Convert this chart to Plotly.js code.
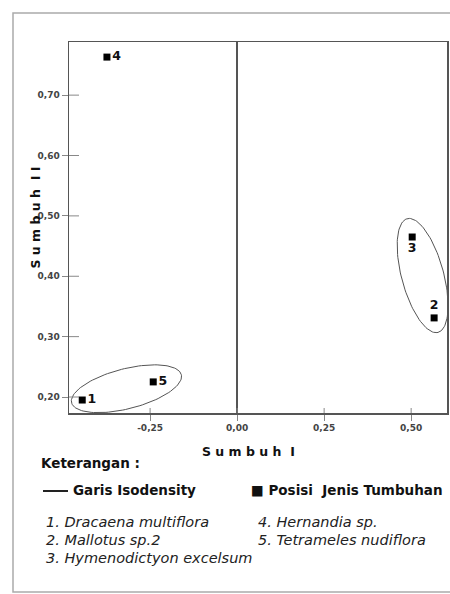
<!DOCTYPE html>
<html>
<head>
<meta charset="utf-8">
<script src="https://cdn.plot.ly/plotly-3.0.1.min.js"></script>
<style>html,body{margin:0;padding:0;background:#fff;}#chart{width:450px;height:594px;}</style>
</head>
<body>
<div id="chart"></div>
<script>
// ---- data ----
const pointIds = ['1', '2', '3', '4', '5'];
const sumbuhI = [-0.445, 0.566, 0.503, -0.374, -0.241];
const sumbuhII = [0.195, 0.331, 0.465, 0.763, 0.225];
const speciesNames = ['Dracaena multiflora', 'Mallotus sp.2', 'Hymenodictyon excelsum', 'Hernandia sp.', 'Tetrameles nudiflora'];
const isodensityGroups = [[0, 4], [2, 1]];
const xTickVals = [-0.25, 0, 0.25, 0.5];
const xTickText = ['-0,25', '0,00', '0,25', '0,50'];
const yTickVals = [0.2, 0.3, 0.4, 0.5, 0.6, 0.7];
const yTickText = ['0,20', '0,30', '0,40', '0,50', '0,60', '0,70'];
const legendTitle = 'Keterangan :';
const legendLine = 'Garis Isodensity';
const legendPoint = 'Posisi\u00a0\u00a0Jenis Tumbuhan';
const xTitle = 'S u m b u h \u00a0I';
const yTitle = 'S u m b u h \u00a0I I';

// ---- layout geometry ----
const W = 450, H = 594;
const M = {l: 69, r: 3, t: 42, b: 181};
const PW = W - M.l - M.r, PH = H - M.t - M.b;
const xRange = [-0.483, 0.603];
const yRange = [0.1735, 0.788];
const px = v => (v - M.l) / PW;
const py = v => (H - M.b - v) / PH;
const textPos = ['middle right', 'top center', 'bottom center', 'middle right', 'middle right'];
const groupShift = [9, -2];
const ellPad = [20, 17], ellMinor = [20, 21];

// ---- isodensity ellipses built from the group members ----
const sx = PW / (xRange[1] - xRange[0]);
const sy = PH / (yRange[1] - yRange[0]);
const ellipseTraces = isodensityGroups.map((g, gi) => {
  const P = g.map(i => [sumbuhI[i] * sx, sumbuhII[i] * sy]);
  const dx = P[1][0] - P[0][0], dy = P[1][1] - P[0][1];
  const d = Math.hypot(dx, dy);
  const u = [dx / d, dy / d], v = [-u[1], u[0]];
  const s = groupShift[gi] * Math.sign(u[0] || 1);
  const c = [(P[0][0] + P[1][0]) / 2 + u[0] * s, (P[0][1] + P[1][1]) / 2 + u[1] * s];
  const a = d / 2 + ellPad[gi], b = ellMinor[gi];
  const xs = [], ys = [];
  for (let k = 0; k <= 120; k++) {
    const t = 2 * Math.PI * k / 120;
    const X = c[0] + a * Math.cos(t) * u[0] + b * Math.sin(t) * v[0];
    const Y = c[1] + a * Math.cos(t) * u[1] + b * Math.sin(t) * v[1];
    xs.push(X / sx); ys.push(Y / sy);
  }
  return {x: xs, y: ys, mode: 'lines', type: 'scatter', line: {color: '#555', width: 1}, hoverinfo: 'skip', showlegend: false};
});

const pointTrace = {
  x: sumbuhI, y: sumbuhII, text: pointIds, type: 'scatter', mode: 'markers+text',
  textposition: textPos,
  marker: {symbol: 'square', size: 7, color: '#000'},
  textfont: {family: 'DejaVu Sans', size: 12.5, color: '#111', weight: 'bold'},
  showlegend: false
};

// inner halves of the crossing ticks
const shapes = [];
yTickVals.forEach(t => shapes.push({type: 'line', xref: 'paper', yref: 'y', x0: 0, x1: 10 / PW, y0: t, y1: t, line: {color: '#888', width: 1}}));
xTickVals.forEach(t => shapes.push({type: 'line', xref: 'x', yref: 'paper', x0: t, x1: t, y0: 0, y1: 5 / PH, line: {color: '#888', width: 1}}));
// outer frame
shapes.push({type: 'rect', xref: 'paper', yref: 'paper', x0: px(13), x1: px(470), y0: py(592), y1: py(13), line: {color: '#aaa', width: 1.5}});
// legend line sample
shapes.push({type: 'line', xref: 'paper', yref: 'paper', x0: px(43), x1: px(68), y0: py(491), y1: py(491), line: {color: '#222', width: 2}});

const boldFont = {family: 'DejaVu Sans', size: 13.5, color: '#111', weight: 'bold'};
const italFont = {family: 'DejaVu Sans', size: 14.5, color: '#222', style: 'italic'};
const annotations = [
  {text: xTitle, x: px(248), y: py(451), font: {family: 'DejaVu Sans', size: 12.5, color: '#111', weight: 'bold'}},
  {text: yTitle, x: px(25), y: py(218), textangle: -90, font: {family: 'DejaVu Sans', size: 12.5, color: '#111', weight: 'bold'}},
  {text: legendTitle, x: px(39), y: py(463), xanchor: 'left', font: boldFont},
  {text: legendLine, x: px(71), y: py(490), xanchor: 'left', font: boldFont},
  {text: '\u25A0 ' + legendPoint, x: px(249), y: py(490), xanchor: 'left', font: boldFont}
];
const listX = [44, 44, 44, 256, 256];
const listY = [522, 540, 558, 522, 540];
speciesNames.forEach((n, i) => annotations.push({
  text: pointIds[i] + '. ' + n, x: px(listX[i]), y: py(listY[i]), xanchor: 'left', font: italFont
}));
annotations.forEach(a => { a.xref = 'paper'; a.yref = 'paper'; a.showarrow = false; if (!a.yanchor) a.yanchor = 'middle'; });

const tickFont = {family: 'DejaVu Sans', size: 9, color: '#444', weight: 'bold'};
const layout = {
  width: W, height: H, margin: M,
  paper_bgcolor: '#fff', plot_bgcolor: '#fff',
  xaxis: {range: xRange, tickvals: xTickVals, ticktext: xTickText, ticks: 'outside', ticklen: 6, tickcolor: '#888',
    showgrid: false, zeroline: true, zerolinecolor: '#555', zerolinewidth: 1.5,
    showline: true, mirror: true, linecolor: '#555', linewidth: 1.5, tickfont: tickFont},
  yaxis: {range: yRange, tickvals: yTickVals, ticktext: yTickText, ticks: 'outside', ticklen: 6, tickcolor: '#888',
    showgrid: false, zeroline: false,
    showline: true, mirror: true, linecolor: '#555', linewidth: 1.5, tickfont: tickFont},
  shapes: shapes, annotations: annotations, showlegend: false
};

Plotly.newPlot('chart', ellipseTraces.concat([pointTrace]), layout, {displayModeBar: false, staticPlot: true});
</script>
</body>
</html>
